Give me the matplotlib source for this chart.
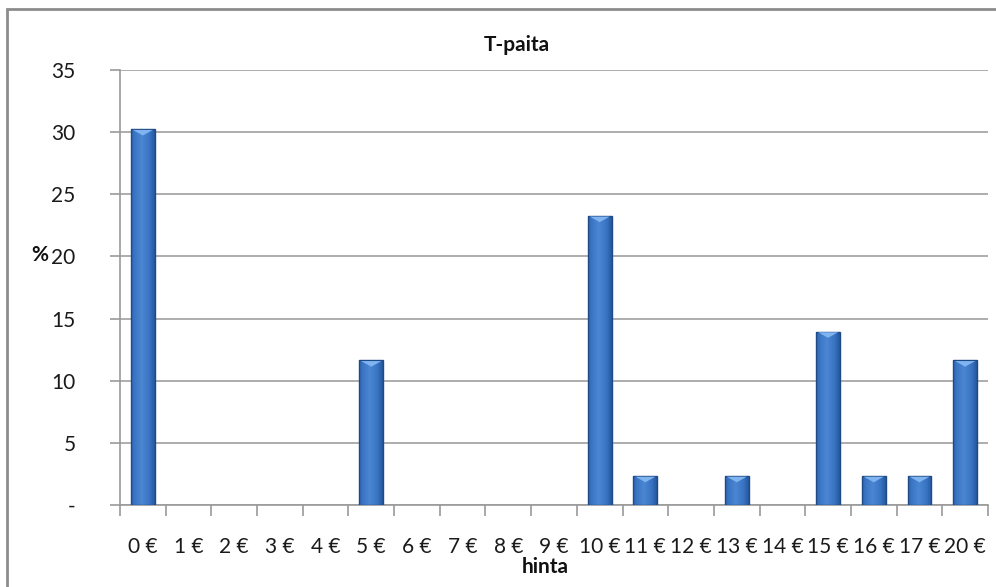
import matplotlib.pyplot as plt
from matplotlib.patches import Rectangle, Polygon
import numpy as np

plt.rcParams['font.family'] = ['Lato', 'DejaVu Sans']

categories = ['0 €', '1 €', '2 €', '3 €', '4 €', '5 €', '6 €', '7 €', '8 €',
              '9 €', '10 €', '11 €', '12 €', '13 €', '14 €', '15 €', '16 €',
              '17 €', '20 €']
# share of answers (%), 43 answers in total
percent = [30.23, 0, 0, 0, 0, 11.63, 0, 0, 0, 0, 23.26, 2.33, 0, 2.33, 0,
           13.95, 2.33, 2.33, 11.63]
yticks = [0, 5, 10, 15, 20, 25, 30, 35]
ytick_labels = ['-', '5', '10', '15', '20', '25', '30', '35']

fig = plt.figure(figsize=(9.96, 5.87), dpi=100)
ax = fig.add_axes([120 / 996, 82 / 587, 868 / 996, 435 / 587])

x = np.arange(len(categories))
width = 0.52
bars = ax.bar(x, percent, width=width, color='#3a72c0', linewidth=0,
              zorder=3)

# horizontal shading to mimic the bevelled look
grad = np.linspace(0, 1, 64)
shade = 1 - np.abs(grad - 0.45) * 1.6
cmap = plt.matplotlib.colors.LinearSegmentedColormap.from_list(
    'bevel', ['#1f4f93', '#3a75c4', '#4a86d2'])
for b, v in zip(bars, percent):
    if v <= 0:
        continue
    x0, w, h = b.get_x(), b.get_width(), b.get_height()
    im = ax.imshow(shade[np.newaxis, :], extent=(x0, x0 + w, 0, h),
                   cmap=cmap, aspect='auto', zorder=3.5, vmin=0, vmax=1)
    im.set_clip_path(b)
    ax.add_patch(Rectangle((x0, 0), w, h, fill=False, edgecolor='#1e4a86',
                           linewidth=1.0, zorder=4))
    cap = min(0.5, h * 0.25)
    ax.add_patch(Polygon([(x0 + 0.04, h - 0.05), (x0 + w - 0.04, h - 0.05),
                          (x0 + w / 2, h - cap)], closed=True,
                         facecolor='#7fb4f0', edgecolor='none', zorder=4.5))

ax.set_xlim(-0.5, len(categories) - 0.5)
ax.set_ylim(0, 35)
ax.set_yticks(yticks)
ax.set_yticklabels(ytick_labels)
ax.set_xticks(x)
ax.set_xticklabels(categories)
ax.set_xticks(np.arange(-0.5, len(categories), 1.0), minor=True)

ax.yaxis.grid(True, color='#a0a0a0', linewidth=1.2, zorder=0)
ax.set_axisbelow(True)
for side in ('top', 'right'):
    ax.spines[side].set_visible(False)
for side in ('left', 'bottom'):
    ax.spines[side].set_color('#9a9a9a')
    ax.spines[side].set_linewidth(1.2)

ax.tick_params(axis='y', length=7, width=1.2, color='#9a9a9a', pad=25,
               labelsize=15, labelcolor='#1a1a1a')
ax.tick_params(axis='x', which='major', length=0, pad=23, labelsize=15,
               labelcolor='#1a1a1a')
ax.tick_params(axis='x', which='minor', length=8, width=1.2, color='#9a9a9a')
for lab in ax.get_yticklabels():
    lab.set_horizontalalignment('right')

fig.text(517 / 996, 1 - 45 / 587, 'T-paita', ha='center', va='center',
         fontsize=15, fontweight='bold', color='#111111')
fig.text(40 / 996, 1 - 255 / 587, '%', ha='center', va='center',
         fontsize=15, fontweight='bold', color='#111111')
fig.text(545 / 996, 1 - 567 / 587, 'hinta', ha='center', va='center',
         fontsize=15, fontweight='bold', color='#111111')

fig.patches.append(Rectangle((7 / 996, -0.02), 1.0, 1 - 9 / 587 + 0.02,
                             transform=fig.transFigure, fill=False,
                             edgecolor='#8c8c8c', linewidth=2))

fig.savefig('out.png', dpi=100)
